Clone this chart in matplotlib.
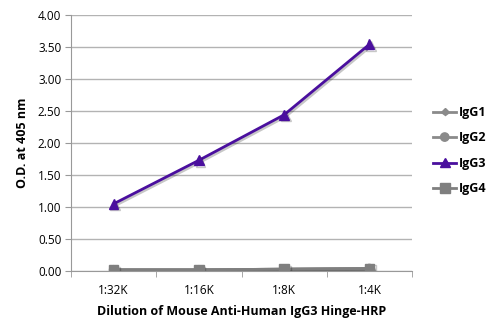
import matplotlib
matplotlib.use("Agg")
import matplotlib.pyplot as plt
import matplotlib.patheffects as pe
import numpy as np

categories = ["1:32K", "1:16K", "1:8K", "1:4K"]
igg1 = [0.02, 0.02, 0.03, 0.04]
igg2 = [0.02, 0.02, 0.03, 0.04]
igg3 = [1.05, 1.73, 2.44, 3.54]
igg4 = [0.02, 0.02, 0.03, 0.04]
yticks = [0.0, 0.5, 1.0, 1.5, 2.0, 2.5, 3.0, 3.5, 4.0]

plt.rcParams['font.family'] = ['Open Sans', 'DejaVu Sans']

fig = plt.figure(figsize=(5, 3.31), dpi=100)
ax = fig.add_axes([0.142, 0.181, 0.682, 0.774])
x = np.arange(len(categories))

shadow = [pe.SimpleLineShadow(offset=(1.2, -1.2), alpha=0.22), pe.Normal()]
series = [
    ("IgG1", igg1, "#8a8a8a", "D", 4),
    ("IgG2", igg2, "#8a8a8a", "o", 6),
    ("IgG3", igg3, "#4a0f9e", "^", 7),
    ("IgG4", igg4, "#7f7f7f", "s", 7),
]
for name, vals, col, mk, ms in series:
    ax.plot(x, vals, color=col, marker=mk, markersize=ms, linewidth=2,
            label=name, path_effects=shadow, zorder=3)

ax.set_xlim(-0.5, 3.5)
ax.set_ylim(0, 4)
ax.set_yticks(yticks)
ax.set_yticklabels([f"{v:.2f}" for v in yticks], fontsize=8.5)
ax.set_xticks(x)
ax.set_xticklabels(categories, fontsize=8.5)
ax.tick_params(axis='x', length=0, pad=9)
ax.set_xticks(np.arange(-0.5, 4.0, 1.0), minor=True)
ax.tick_params(axis='x', which='minor', length=4, color='#999999', direction='out')
ax.tick_params(axis='y', length=4, color='#999999', direction='out', pad=3)

ax.grid(axis='y', color='#b3b3b3', linewidth=1)
ax.set_axisbelow(True)
for s in ['top', 'right']:
    ax.spines[s].set_visible(False)
for s in ['left', 'bottom']:
    ax.spines[s].set_color('#999999')

ax.set_ylabel("O.D. at 405 nm", fontsize=9, fontweight='bold', labelpad=6)
ax.set_xlabel("Dilution of Mouse Anti-Human IgG3 Hinge-HRP", fontsize=9,
              fontweight='bold', labelpad=6)

leg = ax.legend(loc='center left', bbox_to_anchor=(1.03, 0.47), frameon=False,
                handlelength=1.8, handletextpad=0.25, labelspacing=1.0,
                prop={'weight': 'bold', 'size': 9})
for h in leg.get_lines():
    h.set_path_effects([pe.Normal()])

fig.savefig("out.png", dpi=100)
